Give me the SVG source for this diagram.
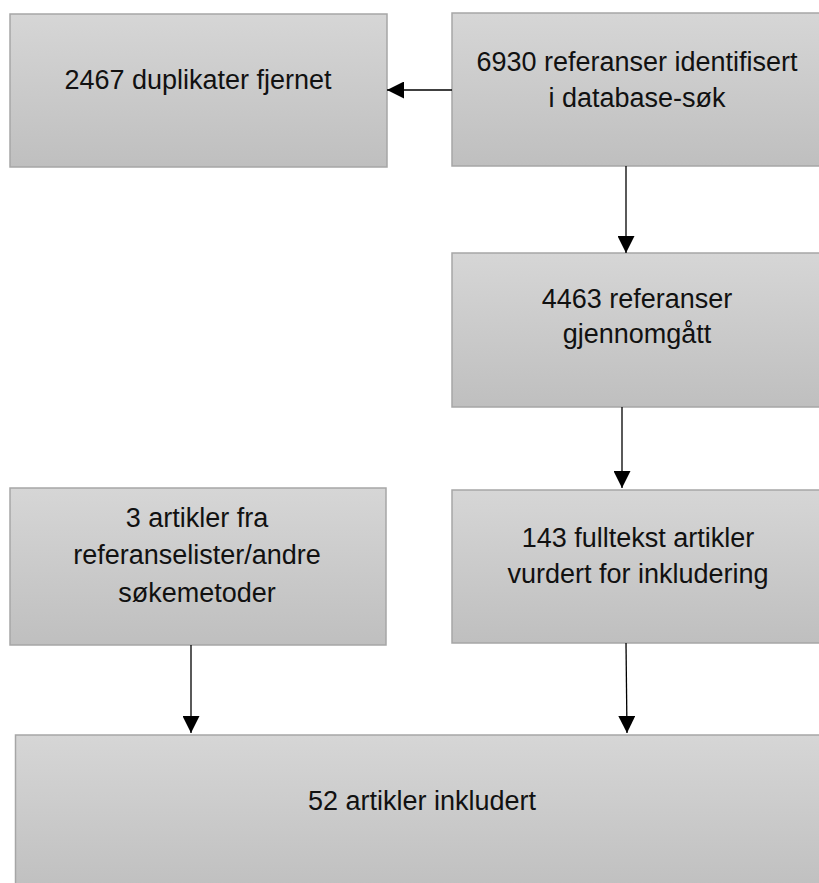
<svg xmlns="http://www.w3.org/2000/svg" width="819" height="883" viewBox="0 0 819 883">
<style>
  .box { fill: url(#g); stroke: #a6a6a6; stroke-width: 1.5; }
  .t { font-family: "Liberation Sans", Arial, sans-serif; font-size: 27px; fill: #111; text-anchor: middle; }
  .c { stroke: #000; stroke-width: 1.3; fill: none; marker-end: url(#ah); }
</style>
<defs>
  <linearGradient id="g" x1="0" y1="0" x2="0" y2="1">
    <stop offset="0" stop-color="#d6d6d6"/>
    <stop offset="1" stop-color="#bfbfbf"/>
  </linearGradient>
  <marker id="ah" markerUnits="userSpaceOnUse" markerWidth="17" markerHeight="17" viewBox="0 0 16 16" refX="16" refY="8" orient="auto">
    <path d="M0,0 L16,8 L0,16 Z" fill="#000"/>
  </marker>
</defs>
<rect width="819" height="883" fill="#fff"/>
<g id="n-duplikater">
  <rect class="box" x="10" y="14" width="377" height="153"/>
  <text class="t" x="198" y="89">2467 duplikater fjernet</text>
</g>
<g id="n-identifisert">
  <rect class="box" x="452" y="13" width="368" height="153"/>
  <text class="t" x="637" y="71">6930 referanser identifisert</text>
  <text class="t" x="637" y="107">i database-søk</text>
</g>
<g id="n-gjennomgatt">
  <rect class="box" x="452" y="253" width="368" height="154"/>
  <text class="t" x="637" y="308">4463 referanser</text>
  <text class="t" x="637" y="343">gjennomgått</text>
</g>
<g id="n-andre">
  <rect class="box" x="10" y="488" width="376" height="157"/>
  <text class="t" x="197" y="527">3 artikler fra</text>
  <text class="t" x="197" y="564">referanselister/andre</text>
  <text class="t" x="197" y="602">søkemetoder</text>
</g>
<g id="n-fulltekst">
  <rect class="box" x="452" y="490" width="368" height="153"/>
  <text class="t" x="638" y="547">143 fulltekst artikler</text>
  <text class="t" x="638" y="583">vurdert for inkludering</text>
</g>
<g id="n-inkludert">
  <rect class="box" x="15.5" y="735" width="805" height="160"/>
  <text class="t" x="422" y="810">52 artikler inkludert</text>
</g>
<g id="connectors">
  <path class="c" d="M452,90 L387,90"/>
  <path class="c" d="M626,166 L626,253"/>
  <path class="c" d="M622,407 L622,488"/>
  <path class="c" d="M191,645 L191,733"/>
  <path class="c" d="M626,643 L627,733"/>
</g>
</svg>
